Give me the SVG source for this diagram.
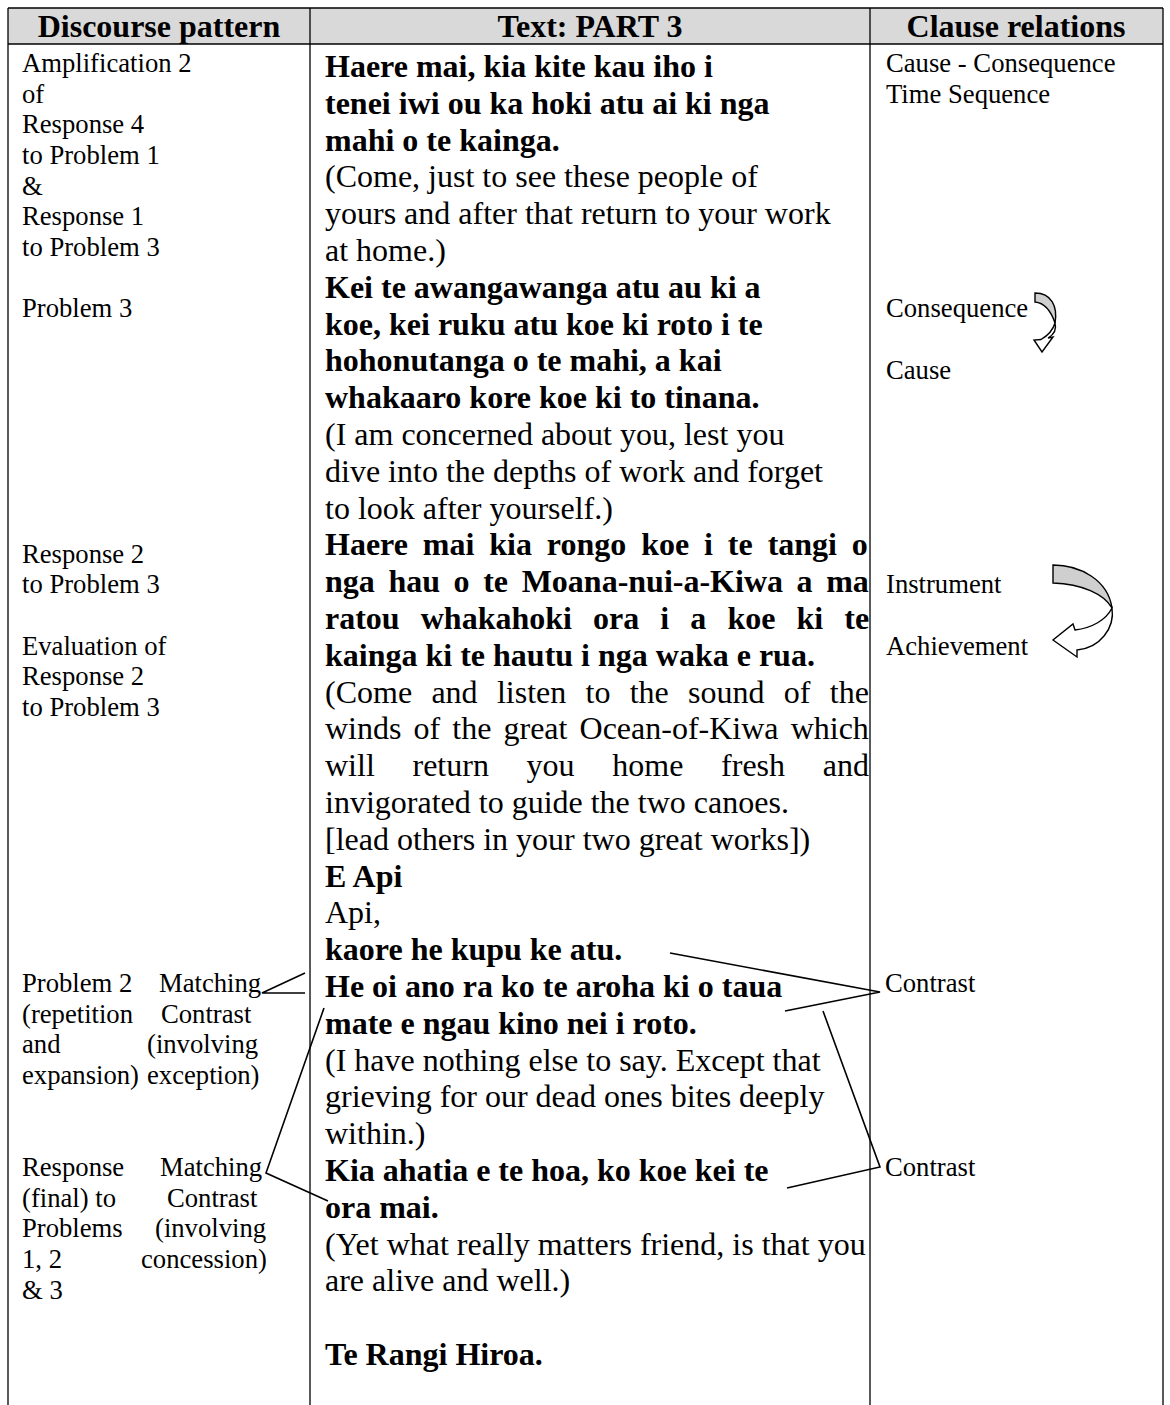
<svg xmlns="http://www.w3.org/2000/svg" width="1170" height="1405" viewBox="0 0 1170 1405">
<style>
text{font-family:"Liberation Serif","Times New Roman",serif;fill:#000}
.h{font-size:32px;font-weight:bold;text-anchor:middle}
.s{font-size:26.67px}
.b{font-size:32px;font-weight:bold}
.r{font-size:32px}
.ln{stroke:#000;stroke-width:1.3;fill:none}
.cn{stroke:#000;stroke-width:1.6;fill:none}
.ag{fill:#cfcfcf;stroke:#000;stroke-width:1.4}
.aw{fill:#fff;stroke:#000;stroke-width:1.4}
</style>
<rect x="0" y="0" width="1170" height="1405" fill="#fff"/>
<g id="table">
<rect x="8" y="8" width="1155" height="36" fill="#d9d9d9"/>
<line class="ln" x1="8" y1="8" x2="1163" y2="8"/>
<line class="ln" x1="8" y1="44" x2="1163" y2="44"/>
<line class="ln" x1="8" y1="8" x2="8" y2="1405"/>
<line class="ln" x1="310" y1="8" x2="310" y2="1405"/>
<line class="ln" x1="870" y1="8" x2="870" y2="1405"/>
<line class="ln" x1="1163" y1="8" x2="1163" y2="1405"/>
</g>
<g id="header">
<text class="h" x="159" y="37">Discourse pattern</text>
<text class="h" x="590" y="37">Text: PART 3</text>
<text class="h" x="1016" y="37">Clause relations</text>
</g>
<g id="discourse-pattern">
<text class="s" x="22" y="72">Amplification 2</text>
<text class="s" x="22" y="102.7">of</text>
<text class="s" x="22" y="133.3">Response 4</text>
<text class="s" x="22" y="164">to Problem 1</text>
<text class="s" x="22" y="194.7">&amp;</text>
<text class="s" x="22" y="225.3">Response 1</text>
<text class="s" x="22" y="256">to Problem 3</text>
<text class="s" x="22" y="317.3">Problem 3</text>
<text class="s" x="22" y="562.7">Response 2</text>
<text class="s" x="22" y="593.3">to Problem 3</text>
<text class="s" x="22" y="654.7">Evaluation of</text>
<text class="s" x="22" y="685.3">Response 2</text>
<text class="s" x="22" y="716">to Problem 3</text>
<text class="s" x="22" y="992">Problem 2</text><text class="s" x="159" y="992">Matching</text>
<text class="s" x="22" y="1022.7">(repetition</text><text class="s" x="161" y="1022.7">Contrast</text>
<text class="s" x="22" y="1053.3">and</text><text class="s" x="147" y="1053.3">(involving</text>
<text class="s" x="22" y="1084">expansion)</text><text class="s" x="147" y="1084">exception)</text>
<text class="s" x="22" y="1176">Response</text><text class="s" x="160" y="1176">Matching</text>
<text class="s" x="22" y="1206.7">(final) to</text><text class="s" x="167" y="1206.7">Contrast</text>
<text class="s" x="22" y="1237.3">Problems</text><text class="s" x="155" y="1237.3">(involving</text>
<text class="s" x="22" y="1268">1, 2</text><text class="s" x="141" y="1268">concession)</text>
<text class="s" x="22" y="1298.7">&amp; 3</text>
</g>
<g id="text-part3">
<text class="b" x="325" y="77">Haere mai, kia kite kau iho i</text>
<text class="b" x="325" y="113.8">tenei iwi ou ka hoki atu ai ki nga</text>
<text class="b" x="325" y="150.6">mahi o te kainga.</text>
<text class="r" x="325" y="187.4">(Come, just to see these people of</text>
<text class="r" x="325" y="224.2">yours and after that return to your work</text>
<text class="r" x="325" y="261">at home.)</text>
<text class="b" x="325" y="297.8">Kei te awangawanga atu au ki a</text>
<text class="b" x="325" y="334.6">koe, kei ruku atu koe ki roto i te</text>
<text class="b" x="325" y="371.4">hohonutanga o te mahi, a kai</text>
<text class="b" x="325" y="408.2">whakaaro kore koe ki to tinana.</text>
<text class="r" x="325" y="445">(I am concerned about you, lest you</text>
<text class="r" x="325" y="481.8">dive into the depths of work and forget</text>
<text class="r" x="325" y="518.6">to look after yourself.)</text>
<text class="b" x="325" y="555.4" word-spacing="6.9">Haere mai kia rongo koe i te tangi o</text>
<text class="b" x="325" y="592.2" word-spacing="5.6">nga hau o te Moana-nui-a-Kiwa a ma</text>
<text class="b" x="325" y="629" word-spacing="13.1">ratou whakahoki ora i a koe ki te</text>
<text class="b" x="325" y="665.8">kainga ki te hautu i nga waka e rua.</text>
<text class="r" x="325" y="702.6" word-spacing="11.3">(Come and listen to the sound of the</text>
<text class="r" x="325" y="739.4" word-spacing="4.1">winds of the great Ocean-of-Kiwa which</text>
<text class="r" x="325" y="776.2" word-spacing="29.7">will return you home fresh and</text>
<text class="r" x="325" y="813">invigorated to guide the two canoes.</text>
<text class="r" x="325" y="849.8">[lead others in your two great works])</text>
<text class="b" x="325" y="886.6">E Api</text>
<text class="r" x="325" y="923.4">Api,</text>
<text class="b" x="325" y="960.2">kaore he kupu ke atu.</text>
<text class="b" x="325" y="997">He oi ano ra ko te aroha ki o taua</text>
<text class="b" x="325" y="1033.8">mate e ngau kino nei i roto.</text>
<text class="r" x="325" y="1070.6">(I have nothing else to say. Except that</text>
<text class="r" x="325" y="1107.4">grieving for our dead ones bites deeply</text>
<text class="r" x="325" y="1144.2">within.)</text>
<text class="b" x="325" y="1181">Kia ahatia e te hoa, ko koe kei te</text>
<text class="b" x="325" y="1217.8">ora mai.</text>
<text class="r" x="325" y="1254.6">(Yet what really matters friend, is that you</text>
<text class="r" x="325" y="1291.4">are alive and well.)</text>
<text class="b" x="325" y="1365">Te Rangi Hiroa.</text>
</g>
<g id="clause-relations">
<text class="s" x="886" y="72">Cause - Consequence</text>
<text class="s" x="886" y="102.7">Time Sequence</text>
<text class="s" x="886" y="317.3">Consequence</text>
<text class="s" x="886" y="378.7">Cause</text>
<text class="s" x="886" y="593.3">Instrument</text>
<text class="s" x="886" y="654.7">Achievement</text>
<text class="s" x="885" y="992">Contrast</text>
<text class="s" x="885" y="1176">Contrast</text>
</g>
<g id="connectors">
<g id="curved-arrow-1">
<path class="ag" d="M1035,293 C1051,293 1058,306 1055,323 C1051,311 1045,303 1035,302 Z"/>
<path class="aw" d="M1055,323 C1057,330 1053,335 1048,338 L1053,337 L1042,352 L1034,340 L1041,339.5 C1047,336 1053,330 1055,323 Z"/>
</g>
<g id="curved-arrow-2">
<path class="ag" d="M1053,565 C1080,565 1108,580 1112,608 C1104,594 1082,584 1053,583 Z"/>
<path class="aw" d="M1112,608 C1115,628 1100,648 1077,650 L1077,657 L1053,640 L1073,624 L1075,630 C1092,628 1106,620 1112,608 Z"/>
</g>
<polyline class="cn" points="305,973 262,993 305,993"/>
<polyline class="cn" points="324,1008 266,1173 328,1201"/>
<polyline class="cn" points="670,953 880,992 785,1011"/>
<polyline class="cn" points="823,1011 880,1167 787,1188"/>
</g>
</svg>
